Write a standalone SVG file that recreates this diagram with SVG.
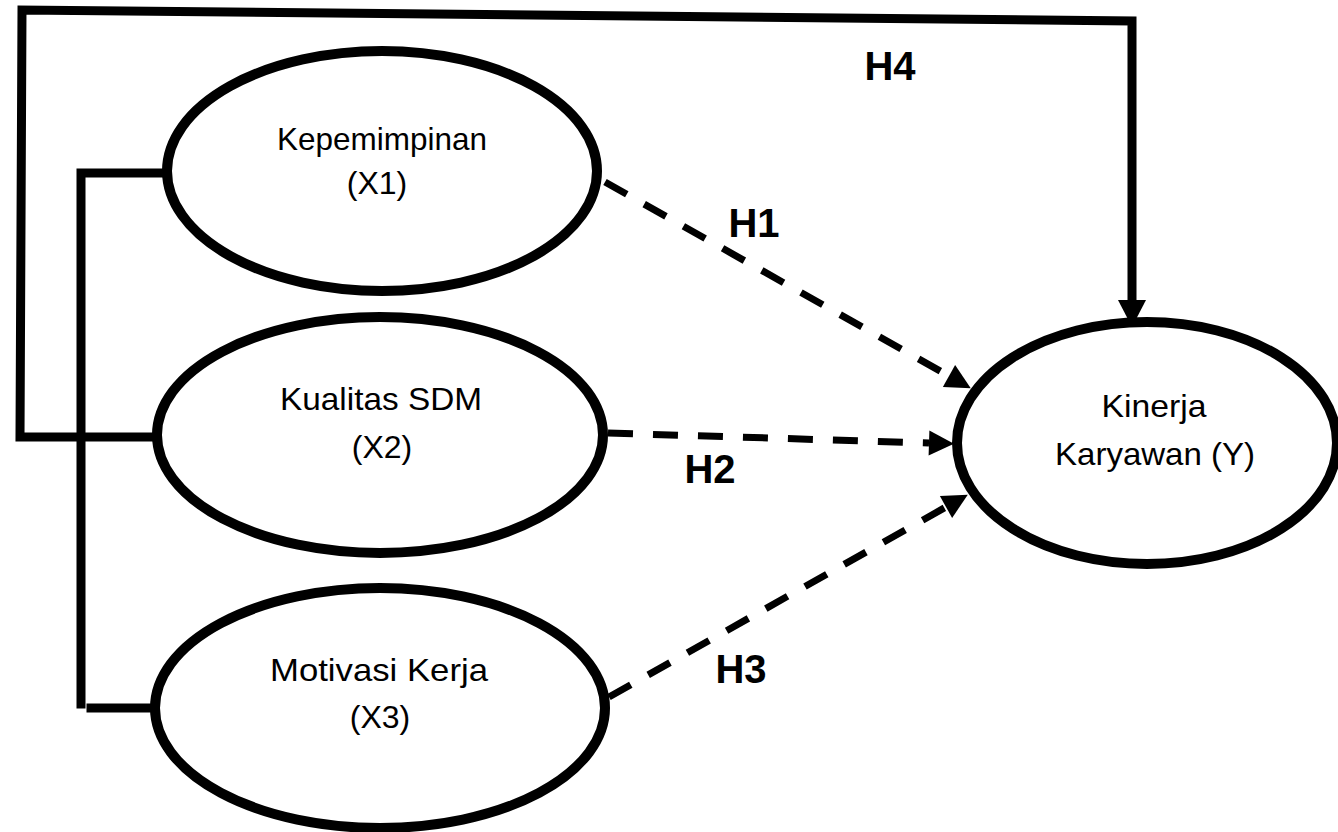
<svg xmlns="http://www.w3.org/2000/svg" width="1338" height="832" viewBox="0 0 1338 832">
<style>
.node{fill:#fff;stroke:#000;stroke-width:10}
.lbl{font-family:"Liberation Sans",Arial,sans-serif;font-size:32px;fill:#000;text-anchor:middle}
.h{font-family:"Liberation Sans",Arial,sans-serif;font-size:40px;font-weight:bold;fill:#000;text-anchor:middle}
.solid{fill:none;stroke:#000;stroke-width:9;stroke-linejoin:miter;stroke-linecap:square}
.dash{fill:none;stroke:#000;stroke-width:7;stroke-dasharray:25 20}
</style>
<defs>
<marker id="ad" markerUnits="userSpaceOnUse" markerWidth="26" markerHeight="26" refX="0" refY="12.5" orient="auto" overflow="visible">
<path d="M0,0 L25,12.5 L0,25 Z" fill="#000"/>
</marker>
<marker id="as" markerUnits="userSpaceOnUse" markerWidth="30" markerHeight="30" refX="0" refY="14" orient="auto" overflow="visible">
<path d="M0,0 L27,14 L0,28 Z" fill="#000"/>
</marker>
</defs>
<g id="connectors">
<path class="solid" d="M152,437 L20,437 L22,10 L1132,21 L1132,300" marker-end="url(#as)"/>
<path class="solid" d="M165,173 L81,173 L81,704"/>
<path class="solid" d="M91,708 L152,708"/>
<path class="dash" d="M605,182 L949,376" marker-end="url(#ad)"/>
<path class="dash" d="M608,433 L929,443" marker-end="url(#ad)"/>
<path class="dash" d="M609,697 L946,507" marker-end="url(#ad)"/>
</g>
<g id="x1">
<ellipse class="node" cx="382" cy="171" rx="215" ry="120"/>
<text class="lbl" x="382" y="150" textLength="210" lengthAdjust="spacingAndGlyphs">Kepemimpinan</text>
<text class="lbl" x="377" y="194">(X1)</text>
</g>
<g id="x2">
<ellipse class="node" cx="380" cy="435" rx="223" ry="118"/>
<text class="lbl" x="381" y="410" textLength="202" lengthAdjust="spacingAndGlyphs">Kualitas SDM</text>
<text class="lbl" x="382" y="458">(X2)</text>
</g>
<g id="x3">
<ellipse class="node" cx="380" cy="708" rx="225" ry="120"/>
<text class="lbl" x="379" y="681" textLength="218" lengthAdjust="spacingAndGlyphs">Motivasi Kerja</text>
<text class="lbl" x="380" y="728">(X3)</text>
</g>
<g id="y">
<ellipse class="node" cx="1147" cy="443" rx="190" ry="121"/>
<text class="lbl" x="1154" y="417" textLength="105" lengthAdjust="spacingAndGlyphs">Kinerja</text>
<text class="lbl" x="1155" y="465" textLength="200" lengthAdjust="spacingAndGlyphs">Karyawan (Y)</text>
</g>
<g id="labels">
<text class="h" x="754" y="237">H1</text>
<text class="h" x="710" y="483">H2</text>
<text class="h" x="741" y="683">H3</text>
<text class="h" x="890" y="80">H4</text>
</g>
</svg>
